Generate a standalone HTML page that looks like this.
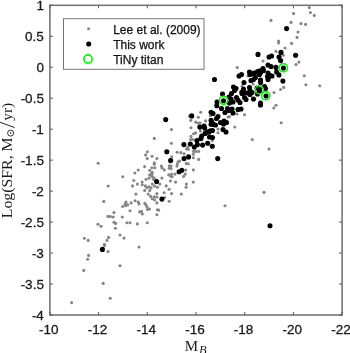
<!DOCTYPE html>
<html><head><meta charset="utf-8"><style>
html,body{margin:0;padding:0;background:#fff;}
body{width:350px;height:353px;overflow:hidden;}
svg{display:block;}
text{-webkit-font-smoothing:antialiased;}
svg{transform:translateZ(0);}
</style></head><body>
<svg width="350" height="353" viewBox="0 0 350 353">
<g fill="#858585"><circle cx="104.6" cy="245.6" r="1.55"/><circle cx="108" cy="251.6" r="1.55"/><circle cx="88.6" cy="255.4" r="1.55"/><circle cx="87.6" cy="259.2" r="1.55"/><circle cx="120" cy="265.7" r="1.55"/><circle cx="83.8" cy="270.4" r="1.55"/><circle cx="103.2" cy="283.4" r="1.55"/><circle cx="110.2" cy="298.2" r="1.55"/><circle cx="71.6" cy="302.6" r="1.55"/><circle cx="139" cy="247" r="1.55"/><circle cx="108.2" cy="186" r="1.55"/><circle cx="103.8" cy="201.4" r="1.55"/><circle cx="114" cy="212.6" r="1.55"/><circle cx="108" cy="216.4" r="1.55"/><circle cx="110.4" cy="216.6" r="1.55"/><circle cx="113.2" cy="217" r="1.55"/><circle cx="114" cy="222.2" r="1.55"/><circle cx="115.6" cy="223.4" r="1.55"/><circle cx="98" cy="224.2" r="1.55"/><circle cx="101" cy="226.2" r="1.55"/><circle cx="115.4" cy="228.2" r="1.55"/><circle cx="120" cy="235" r="1.55"/><circle cx="108.6" cy="237.4" r="1.55"/><circle cx="84.4" cy="238.2" r="1.55"/><circle cx="88.2" cy="240.4" r="1.55"/><circle cx="107" cy="240.4" r="1.55"/><circle cx="104.4" cy="244.4" r="1.55"/><circle cx="122.8" cy="176.8" r="1.55"/><circle cx="134.9" cy="173" r="1.55"/><circle cx="133.8" cy="180.5" r="1.55"/><circle cx="137.4" cy="184.1" r="1.55"/><circle cx="132.5" cy="185.9" r="1.55"/><circle cx="142.1" cy="182.1" r="1.55"/><circle cx="142.3" cy="184.8" r="1.55"/><circle cx="146.1" cy="179.2" r="1.55"/><circle cx="149.7" cy="174.9" r="1.55"/><circle cx="149.2" cy="178.1" r="1.55"/><circle cx="152" cy="173.6" r="1.55"/><circle cx="152.3" cy="176.4" r="1.55"/><circle cx="154.3" cy="178.1" r="1.55"/><circle cx="153.4" cy="179.3" r="1.55"/><circle cx="152.3" cy="184.1" r="1.55"/><circle cx="154.6" cy="186.1" r="1.55"/><circle cx="145.4" cy="185.9" r="1.55"/><circle cx="146.9" cy="187.6" r="1.55"/><circle cx="148.9" cy="186.9" r="1.55"/><circle cx="151.1" cy="187.9" r="1.55"/><circle cx="144.7" cy="190.4" r="1.55"/><circle cx="149.7" cy="190.5" r="1.55"/><circle cx="135.9" cy="194.1" r="1.55"/><circle cx="148.3" cy="194.1" r="1.55"/><circle cx="156.9" cy="193.6" r="1.55"/><circle cx="150.6" cy="196.4" r="1.55"/><circle cx="154.3" cy="196.8" r="1.55"/><circle cx="156.9" cy="197" r="1.55"/><circle cx="152.3" cy="198.7" r="1.55"/><circle cx="154.6" cy="199.9" r="1.55"/><circle cx="156.9" cy="202.9" r="1.55"/><circle cx="135.1" cy="200.8" r="1.55"/><circle cx="138.3" cy="202.1" r="1.55"/><circle cx="139.1" cy="203.9" r="1.55"/><circle cx="131.1" cy="202.9" r="1.55"/><circle cx="126" cy="202.1" r="1.55"/><circle cx="125.1" cy="203.9" r="1.55"/><circle cx="127.7" cy="204.8" r="1.55"/><circle cx="125.8" cy="205.6" r="1.55"/><circle cx="122.8" cy="206.5" r="1.55"/><circle cx="144.9" cy="203.3" r="1.55"/><circle cx="146" cy="205" r="1.55"/><circle cx="147.1" cy="207" r="1.55"/><circle cx="147.5" cy="209.5" r="1.55"/><circle cx="149.4" cy="209" r="1.55"/><circle cx="130" cy="210.7" r="1.55"/><circle cx="139.7" cy="211.9" r="1.55"/><circle cx="141.4" cy="211.3" r="1.55"/><circle cx="157.4" cy="209.8" r="1.55"/><circle cx="142.3" cy="213.9" r="1.55"/><circle cx="156.9" cy="214.7" r="1.55"/><circle cx="122.3" cy="217" r="1.55"/><circle cx="126.9" cy="222.7" r="1.55"/><circle cx="130" cy="222.7" r="1.55"/><circle cx="137.4" cy="223.9" r="1.55"/><circle cx="147.3" cy="222.7" r="1.55"/><circle cx="124" cy="238.1" r="1.55"/><circle cx="161.9" cy="178.1" r="1.55"/><circle cx="168.7" cy="174.7" r="1.55"/><circle cx="171.6" cy="174.1" r="1.55"/><circle cx="172.1" cy="176.8" r="1.55"/><circle cx="170.4" cy="175.9" r="1.55"/><circle cx="175" cy="174.1" r="1.55"/><circle cx="185.3" cy="174.1" r="1.55"/><circle cx="183.6" cy="176.4" r="1.55"/><circle cx="193.3" cy="182.1" r="1.55"/><circle cx="170.4" cy="181" r="1.55"/><circle cx="175.6" cy="182.1" r="1.55"/><circle cx="159.8" cy="184.1" r="1.55"/><circle cx="186.4" cy="184.1" r="1.55"/><circle cx="186.1" cy="187.3" r="1.55"/><circle cx="166.2" cy="185.9" r="1.55"/><circle cx="157.5" cy="187.3" r="1.55"/><circle cx="169.1" cy="189.2" r="1.55"/><circle cx="164.1" cy="192.8" r="1.55"/><circle cx="171.6" cy="193.6" r="1.55"/><circle cx="181.3" cy="194.1" r="1.55"/><circle cx="164.7" cy="197.6" r="1.55"/><circle cx="169.1" cy="201.3" r="1.55"/><circle cx="158.7" cy="210.1" r="1.55"/><circle cx="225" cy="205.8" r="1.55"/><circle cx="264" cy="192.4" r="1.55"/><circle cx="98.2" cy="163.2" r="1.55"/><circle cx="147.4" cy="151.8" r="1.55"/><circle cx="145.7" cy="154.9" r="1.55"/><circle cx="152.1" cy="156.2" r="1.55"/><circle cx="147.3" cy="158.6" r="1.55"/><circle cx="156.9" cy="158.6" r="1.55"/><circle cx="154.3" cy="162.9" r="1.55"/><circle cx="154.3" cy="164.3" r="1.55"/><circle cx="144.6" cy="166.6" r="1.55"/><circle cx="151.9" cy="167.8" r="1.55"/><circle cx="154.9" cy="167.8" r="1.55"/><circle cx="138.2" cy="170" r="1.55"/><circle cx="149.7" cy="170.3" r="1.55"/><circle cx="152.1" cy="172.3" r="1.55"/><circle cx="171.4" cy="143.2" r="1.55"/><circle cx="177.2" cy="152.3" r="1.55"/><circle cx="180.9" cy="152.6" r="1.55"/><circle cx="184.1" cy="153.7" r="1.55"/><circle cx="186.6" cy="149.1" r="1.55"/><circle cx="187.7" cy="147.4" r="1.55"/><circle cx="171.7" cy="156.9" r="1.55"/><circle cx="161.4" cy="166.1" r="1.55"/><circle cx="162" cy="168" r="1.55"/><circle cx="164.3" cy="169.9" r="1.55"/><circle cx="169.4" cy="165.7" r="1.55"/><circle cx="171.1" cy="166.1" r="1.55"/><circle cx="169.2" cy="168.3" r="1.55"/><circle cx="171.1" cy="168.6" r="1.55"/><circle cx="178" cy="161.7" r="1.55"/><circle cx="179.7" cy="161.1" r="1.55"/><circle cx="177.4" cy="164" r="1.55"/><circle cx="176.9" cy="166.1" r="1.55"/><circle cx="186.3" cy="163.4" r="1.55"/><circle cx="188.3" cy="163.8" r="1.55"/><circle cx="185.7" cy="170" r="1.55"/><circle cx="193.4" cy="151.4" r="1.55"/><circle cx="195.7" cy="151.4" r="1.55"/><circle cx="198.6" cy="151.4" r="1.55"/><circle cx="193.4" cy="154.3" r="1.55"/><circle cx="193.4" cy="157.7" r="1.55"/><circle cx="198.6" cy="159.4" r="1.55"/><circle cx="193.4" cy="169.9" r="1.55"/><circle cx="212.3" cy="140.6" r="1.55"/><circle cx="171.5" cy="129.6" r="1.55"/><circle cx="154.3" cy="138.4" r="1.55"/><circle cx="189.4" cy="116.1" r="1.55"/><circle cx="200.7" cy="112.3" r="1.55"/><circle cx="198.3" cy="117.3" r="1.55"/><circle cx="190.8" cy="120.4" r="1.55"/><circle cx="195.7" cy="122.1" r="1.55"/><circle cx="197.9" cy="123" r="1.55"/><circle cx="200" cy="123" r="1.55"/><circle cx="205.6" cy="120.9" r="1.55"/><circle cx="191" cy="127.7" r="1.55"/><circle cx="210.3" cy="115.7" r="1.55"/><circle cx="193.6" cy="133.7" r="1.55"/><circle cx="195.7" cy="132.9" r="1.55"/><circle cx="200.4" cy="131.1" r="1.55"/><circle cx="234.8" cy="127" r="1.55"/><circle cx="218" cy="129" r="1.55"/><circle cx="218" cy="132.8" r="1.55"/><circle cx="228" cy="117" r="1.55"/><circle cx="229.5" cy="116.5" r="1.55"/><circle cx="237" cy="114" r="1.55"/><circle cx="244.5" cy="114.7" r="1.55"/><circle cx="273.8" cy="108" r="1.55"/><circle cx="276" cy="105.3" r="1.55"/><circle cx="252.3" cy="139.5" r="1.55"/><circle cx="281.2" cy="122.8" r="1.55"/><circle cx="269" cy="149" r="1.55"/><circle cx="242" cy="86" r="1.55"/><circle cx="241" cy="91.5" r="1.55"/><circle cx="274" cy="92.5" r="1.55"/><circle cx="253" cy="84" r="1.55"/><circle cx="248" cy="76" r="1.55"/><circle cx="298.9" cy="62.1" r="1.55"/><circle cx="296" cy="64.6" r="1.55"/><circle cx="304.3" cy="75.7" r="1.55"/><circle cx="305.9" cy="84.8" r="1.55"/><circle cx="283.8" cy="87.4" r="1.55"/><circle cx="280.6" cy="89.5" r="1.55"/><circle cx="319.7" cy="85.7" r="1.55"/><circle cx="293.6" cy="13.6" r="1.55"/><circle cx="271" cy="20.4" r="1.55"/><circle cx="291" cy="22.4" r="1.55"/><circle cx="301" cy="23.6" r="1.55"/><circle cx="305.6" cy="24.4" r="1.55"/><circle cx="298" cy="32" r="1.55"/><circle cx="297" cy="37.4" r="1.55"/><circle cx="278.6" cy="41" r="1.55"/><circle cx="278.6" cy="43" r="1.55"/><circle cx="291.6" cy="43.4" r="1.55"/><circle cx="285" cy="48" r="1.55"/><circle cx="276" cy="51.4" r="1.55"/><circle cx="283.3" cy="55.2" r="1.55"/><circle cx="263" cy="61" r="1.55"/><circle cx="309.3" cy="7.6" r="1.55"/><circle cx="310.4" cy="12.6" r="1.55"/><circle cx="314.3" cy="15.4" r="1.55"/><circle cx="237.2" cy="67.5" r="1.55"/><circle cx="191" cy="136.4" r="1.55"/><circle cx="190.7" cy="139.6" r="1.55"/><circle cx="192.8" cy="139.5" r="1.55"/><circle cx="188.4" cy="149.3" r="1.55"/></g>
<g fill="#000"><circle cx="102.4" cy="249.4" r="2.55"/><circle cx="270" cy="225.7" r="2.55"/><circle cx="156.6" cy="181.6" r="2.55"/><circle cx="161.9" cy="199.1" r="2.55"/><circle cx="165.7" cy="119.6" r="2.55"/><circle cx="166.8" cy="151.8" r="2.55"/><circle cx="170.6" cy="160.6" r="2.55"/><circle cx="183.9" cy="144.6" r="2.55"/><circle cx="190.3" cy="144" r="2.55"/><circle cx="184.1" cy="158.6" r="2.55"/><circle cx="188.6" cy="156.9" r="2.55"/><circle cx="179.1" cy="171.8" r="2.55"/><circle cx="181.8" cy="170.3" r="2.55"/><circle cx="194.3" cy="147.1" r="2.55"/><circle cx="197.4" cy="144.6" r="2.55"/><circle cx="196.9" cy="140.6" r="2.55"/><circle cx="202.6" cy="145.1" r="2.55"/><circle cx="207.7" cy="143.2" r="2.55"/><circle cx="212.3" cy="146.3" r="2.55"/><circle cx="217.7" cy="158.6" r="2.55"/><circle cx="191.7" cy="115.9" r="2.55"/><circle cx="199.8" cy="127.1" r="2.55"/><circle cx="204.1" cy="126" r="2.55"/><circle cx="204.7" cy="128.1" r="2.55"/><circle cx="211.1" cy="112.3" r="2.55"/><circle cx="211.1" cy="120.4" r="2.55"/><circle cx="211.1" cy="124.3" r="2.55"/><circle cx="207.7" cy="132" r="2.55"/><circle cx="210.3" cy="130.7" r="2.55"/><circle cx="216.8" cy="105.8" r="2.55"/><circle cx="221.5" cy="108.5" r="2.55"/><circle cx="227.5" cy="108.5" r="2.55"/><circle cx="232" cy="109" r="2.55"/><circle cx="229" cy="110.5" r="2.55"/><circle cx="225" cy="112.5" r="2.55"/><circle cx="233" cy="113" r="2.55"/><circle cx="238" cy="109.5" r="2.55"/><circle cx="241" cy="109" r="2.55"/><circle cx="213" cy="113.5" r="2.55"/><circle cx="218" cy="116.5" r="2.55"/><circle cx="216.5" cy="118.5" r="2.55"/><circle cx="212" cy="122.5" r="2.55"/><circle cx="213.5" cy="124.5" r="2.55"/><circle cx="215.5" cy="125" r="2.55"/><circle cx="220.5" cy="122.5" r="2.55"/><circle cx="224" cy="121" r="2.55"/><circle cx="226.5" cy="122.5" r="2.55"/><circle cx="223.5" cy="124" r="2.55"/><circle cx="223" cy="129.5" r="2.55"/><circle cx="226" cy="132" r="2.55"/><circle cx="212.5" cy="130.5" r="2.55"/><circle cx="209" cy="132" r="2.55"/><circle cx="209.5" cy="137" r="2.55"/><circle cx="212.5" cy="137.5" r="2.55"/><circle cx="260.5" cy="105" r="2.55"/><circle cx="214.5" cy="79.5" r="2.55"/><circle cx="239" cy="76" r="2.55"/><circle cx="241.5" cy="74.5" r="2.55"/><circle cx="233.5" cy="87" r="2.55"/><circle cx="236" cy="88.5" r="2.55"/><circle cx="234.5" cy="90.5" r="2.55"/><circle cx="231.5" cy="93.5" r="2.55"/><circle cx="222.5" cy="94" r="2.55"/><circle cx="223.5" cy="100.8" r="2.55"/><circle cx="229" cy="97" r="2.55"/><circle cx="231" cy="99" r="2.55"/><circle cx="236.5" cy="97.5" r="2.55"/><circle cx="238" cy="100" r="2.55"/><circle cx="240" cy="102.5" r="2.55"/><circle cx="217" cy="102" r="2.55"/><circle cx="242" cy="93.5" r="2.55"/><circle cx="229.5" cy="103" r="2.55"/><circle cx="233" cy="102" r="2.55"/><circle cx="249.5" cy="72" r="2.55"/><circle cx="250" cy="74.5" r="2.55"/><circle cx="254" cy="73" r="2.55"/><circle cx="257.5" cy="71.5" r="2.55"/><circle cx="261" cy="72" r="2.55"/><circle cx="263.5" cy="70.5" r="2.55"/><circle cx="259.5" cy="74.5" r="2.55"/><circle cx="255.5" cy="77.5" r="2.55"/><circle cx="253.5" cy="79.5" r="2.55"/><circle cx="251" cy="80.5" r="2.55"/><circle cx="260.5" cy="80" r="2.55"/><circle cx="260.5" cy="82.5" r="2.55"/><circle cx="268" cy="73" r="2.55"/><circle cx="267.5" cy="76.5" r="2.55"/><circle cx="270" cy="75.5" r="2.55"/><circle cx="272" cy="76" r="2.55"/><circle cx="268" cy="79.5" r="2.55"/><circle cx="244" cy="82.5" r="2.55"/><circle cx="243.5" cy="89" r="2.55"/><circle cx="242" cy="92" r="2.55"/><circle cx="244.5" cy="92.5" r="2.55"/><circle cx="249.5" cy="87.5" r="2.55"/><circle cx="250" cy="90.5" r="2.55"/><circle cx="248" cy="93" r="2.55"/><circle cx="252" cy="92.5" r="2.55"/><circle cx="250" cy="94.5" r="2.55"/><circle cx="257" cy="88" r="2.55"/><circle cx="259.5" cy="89" r="2.55"/><circle cx="259.5" cy="91" r="2.55"/><circle cx="264.5" cy="86.5" r="2.55"/><circle cx="265.5" cy="88.5" r="2.55"/><circle cx="257.5" cy="94" r="2.55"/><circle cx="266" cy="96" r="2.55"/><circle cx="244.5" cy="97.5" r="2.55"/><circle cx="246" cy="99.5" r="2.55"/><circle cx="253.5" cy="99" r="2.55"/><circle cx="260.5" cy="103" r="2.55"/><circle cx="280.6" cy="60.6" r="2.55"/><circle cx="276" cy="67.4" r="2.55"/><circle cx="283.4" cy="68" r="2.55"/><circle cx="276.6" cy="72" r="2.55"/><circle cx="278.9" cy="74.9" r="2.55"/><circle cx="282.9" cy="81.1" r="2.55"/><circle cx="286.6" cy="28.6" r="2.55"/><circle cx="258" cy="54.4" r="2.55"/><circle cx="281" cy="52.4" r="2.55"/><circle cx="295.6" cy="55.2" r="2.55"/><circle cx="269" cy="57" r="2.55"/><circle cx="271.6" cy="56" r="2.55"/><circle cx="279" cy="57" r="2.55"/><circle cx="268" cy="65" r="2.55"/><circle cx="271" cy="66.6" r="2.55"/><circle cx="263" cy="68.6" r="2.55"/><circle cx="259.9" cy="70.9" r="2.55"/><circle cx="254.1" cy="74.3" r="2.55"/><circle cx="269" cy="76.6" r="2.55"/><circle cx="200.9" cy="138.6" r="2.55"/><circle cx="201.7" cy="136" r="2.55"/><circle cx="205.1" cy="133.4" r="2.55"/></g>
<g fill="none" stroke="#00f800" stroke-width="1.6"><circle cx="223.5" cy="100.3" r="4.1"/><circle cx="259.3" cy="89.9" r="4.1"/><circle cx="265.7" cy="95.7" r="4.1"/><circle cx="283.4" cy="67.7" r="4.1"/></g>
<rect x="49.9" y="5.3" width="292.20000000000005" height="309.7" fill="none" stroke="#777777" stroke-width="1.6"/>
<path d="M49.9,5.30h3M342.1,5.30h-3M49.9,36.27h3M342.1,36.27h-3M49.9,67.24h3M342.1,67.24h-3M49.9,98.21h3M342.1,98.21h-3M49.9,129.18h3M342.1,129.18h-3M49.9,160.15h3M342.1,160.15h-3M49.9,191.12h3M342.1,191.12h-3M49.9,222.09h3M342.1,222.09h-3M49.9,253.06h3M342.1,253.06h-3M49.9,284.03h3M342.1,284.03h-3M49.9,315.00h3M342.1,315.00h-3M49.90,315.0v-3M49.90,5.3v3M98.60,315.0v-3M98.60,5.3v3M147.30,315.0v-3M147.30,5.3v3M196.00,315.0v-3M196.00,5.3v3M244.70,315.0v-3M244.70,5.3v3M293.40,315.0v-3M293.40,5.3v3M342.10,315.0v-3M342.10,5.3v3" stroke="#555" stroke-width="1" fill="none"/>
<g font-family="'Liberation Sans', sans-serif" font-size="13.5" fill="#1a1a1a" stroke="#1a1a1a" stroke-width="0.3"><text x="43.9" y="10.20" text-anchor="end">1</text><text x="43.9" y="41.17" text-anchor="end">0.5</text><text x="43.9" y="72.14" text-anchor="end">0</text><text x="43.9" y="103.11" text-anchor="end">-0.5</text><text x="43.9" y="134.08" text-anchor="end">-1</text><text x="43.9" y="165.05" text-anchor="end">-1.5</text><text x="43.9" y="196.02" text-anchor="end">-2</text><text x="43.9" y="226.99" text-anchor="end">-2.5</text><text x="43.9" y="257.96" text-anchor="end">-3</text><text x="43.9" y="288.93" text-anchor="end">-3.5</text><text x="43.9" y="319.90" text-anchor="end">-4</text><text x="48.80" y="334.2" text-anchor="middle">-10</text><text x="97.50" y="334.2" text-anchor="middle">-12</text><text x="146.20" y="334.2" text-anchor="middle">-14</text><text x="194.90" y="334.2" text-anchor="middle">-16</text><text x="243.60" y="334.2" text-anchor="middle">-18</text><text x="292.30" y="334.2" text-anchor="middle">-20</text><text x="341.00" y="334.2" text-anchor="middle">-22</text></g>
<rect x="63.5" y="18.7" width="140.5" height="50.6" fill="#fff" stroke="#777777" stroke-width="1"/>
<circle cx="88.6" cy="28.8" r="1.55" fill="#858585"/>
<circle cx="88.7" cy="44" r="2.55" fill="#000"/>
<circle cx="88" cy="59.0" r="4.1" fill="none" stroke="#00f800" stroke-width="1.6"/>
<g font-family="'Liberation Sans', sans-serif" font-size="12" fill="#111" stroke="#111" stroke-width="0.25">
<text x="113.2" y="33.8">Lee et al. (2009)</text>
<text x="113.2" y="49.1">This work</text>
<text x="113.2" y="64.0">TiNy titan</text>
</g>
<g font-family="'Liberation Serif', serif" font-size="15" fill="#1a1a1a">
<text x="184.8" y="350.8">M</text><text x="199.0" y="354.1" font-style="italic" font-size="12.5">B</text>
<g transform="translate(11.6,218.3) rotate(-90)">
<text x="0" y="0" textLength="81" lengthAdjust="spacingAndGlyphs">Log(SFR, M</text>
<circle cx="85.2" cy="-1.0" r="3.0" fill="none" stroke="#1a1a1a" stroke-width="0.9"/>
<circle cx="85.2" cy="-1.0" r="0.8"/>
<path d="M90.7,3.0L96.1,-11.6" stroke="#1a1a1a" stroke-width="0.95"/>
<text x="97.6" y="0" textLength="17.8" lengthAdjust="spacingAndGlyphs">yr)</text>
</g>
</g>
</svg>
</body></html>
